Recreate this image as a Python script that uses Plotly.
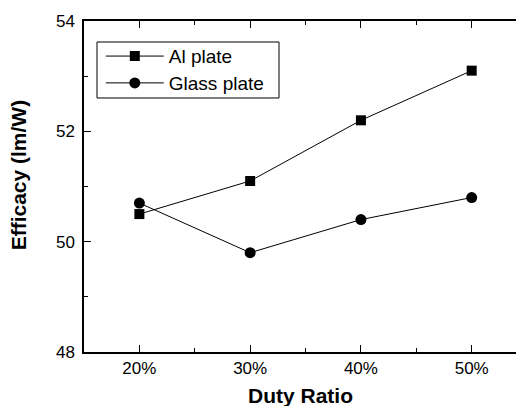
import plotly.graph_objects as go

duty_pos = [20, 30, 40, 50]
duty_labels = ["20%", "30%", "40%", "50%"]
al_plate = [50.5, 51.1, 52.2, 53.1]
glass_plate = [50.7, 49.8, 50.4, 50.8]
y_ticks = [48, 50, 52, 54]

FONT = "Liberation Sans, Arial, sans-serif"

fig = go.Figure()
fig.add_trace(go.Scatter(
    x=duty_pos, y=al_plate, name="Al plate", mode="lines+markers",
    line=dict(color="black", width=1),
    marker=dict(symbol="square", size=10, color="black"),
    legend="legend",
))
fig.add_trace(go.Scatter(
    x=duty_pos, y=glass_plate, name="Glass plate", mode="lines+markers",
    line=dict(color="black", width=1),
    marker=dict(symbol="circle", size=11, color="black"),
    legend="legend2",
))

legend_common = dict(
    xanchor="left", yanchor="top",
    borderwidth=0, bgcolor="rgba(0,0,0,0)",
    font=dict(size=19, family=FONT, color="black"),
    itemwidth=58, tracegroupgap=0,
)

fig.update_layout(
    width=516, height=406,
    margin=dict(l=84, r=0, t=21, b=54, autoexpand=False),
    paper_bgcolor="white", plot_bgcolor="white",
    font=dict(family=FONT, color="black"),
    showlegend=True,
    legend=dict(x=0.0389, y=0.951, **legend_common),
    legend2=dict(x=0.0389, y=0.870, **legend_common),
    shapes=[dict(
        type="rect", xref="paper", yref="paper",
        x0=0.0301, x1=0.4514, y0=0.7674, y1=0.9366,
        line=dict(color="black", width=1), fillcolor="white", layer="below",
    )],
    annotations=[
        dict(
            text="<b>Efficacy (lm/W)</b>", xref="paper", yref="paper",
            x=-0.152, y=0.5347, xanchor="center", yanchor="middle",
            textangle=-90, showarrow=False,
            font=dict(size=21, family=FONT, color="black"),
        ),
        dict(
            text="<b>Duty Ratio</b>", xref="paper", yref="paper",
            x=0.5, y=-0.1329, xanchor="center", yanchor="middle",
            showarrow=False,
            font=dict(size=21, family=FONT, color="black"),
        ),
    ],
)
fig.update_xaxes(
    range=[15, 54], tickvals=duty_pos, ticktext=duty_labels,
    showgrid=False, zeroline=False, automargin=False,
    showline=True, linecolor="black", linewidth=1.5, mirror="ticks",
    ticks="inside", ticklen=7, tickcolor="black", tickwidth=1,
    minor=dict(dtick=5, tick0=15, ticks="inside", ticklen=4, tickcolor="black", showgrid=False),
    tickfont=dict(size=17, family=FONT),
)
fig.update_yaxes(
    range=[48, 54], tickvals=y_ticks,
    showgrid=False, zeroline=False, automargin=False,
    showline=True, linecolor="black", linewidth=1.5, mirror=False,
    ticks="inside", ticklen=7, tickcolor="black", tickwidth=1,
    minor=dict(dtick=1, tick0=48, ticks="inside", ticklen=4, tickcolor="black", showgrid=False),
    tickfont=dict(size=17, family=FONT),
    ticklabelstandoff=4,
)

fig.write_html("out.html")
